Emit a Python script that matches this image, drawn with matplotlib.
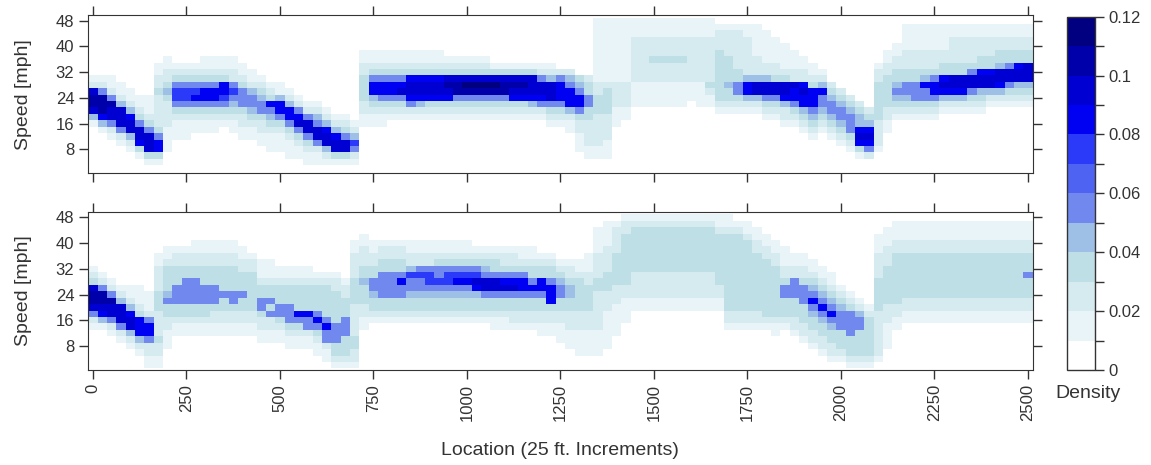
import numpy as np
import matplotlib.pyplot as plt
from matplotlib.colors import ListedColormap, BoundaryNorm

plt.rcParams["font.family"] = ["Liberation Sans", "DejaVu Sans"]

# cell centres: location in 25 ft. increments, speed bins of 2 mph
location = np.arange(0, 2525, 25)
speed = np.arange(48, 0, -2)  # order of the characters in each column string

# density level of each cell:
# 0 -> 0-0.01, 1 -> 0.01-0.02, ... , a -> 0.10-0.11, b -> 0.11-0.12
# one string per location, speeds 48 down to 2 (spaces only for reading)
top_cols = [
    "0000 0000 0129 aa94 1000 0000",
    "0000 0000 0125 aaa8 4100 0000",
    "0000 0000 0112 5a99 5210 0000",
    "0000 0000 0011 2499 9521 0000",
    "0000 0000 0001 1248 9942 1000",
    "0000 0000 0000 1123 5998 3100",
    "0000 0000 0000 1112 3599 9310",
    "0000 0001 1223 2222 2358 8310",
    "0000 0011 2234 3222 2111 1000",
    "0000 0001 2357 7532 1110 0000",
    "0000 0001 2357 7532 1110 0000",  # 250
    "0000 0001 2357 8532 1100 0000",
    "0000 0011 2358 8532 1100 0000",
    "0000 0011 2358 8532 1100 0000",
    "0000 0011 2388 7532 1000 0000",
    "0000 0011 2257 5432 1100 0000",
    "0000 0001 1235 5532 2110 0000",
    "0000 0000 1124 5543 2110 0000",
    "0000 0000 0123 4553 2211 0000",
    "0000 0000 0012 3854 3211 1000",
    "0000 0000 0011 4885 3211 1000",  # 500
    "0000 0000 0001 2488 5321 1100",
    "0000 0000 0000 1258 9532 1100",
    "0000 0000 0000 0125 9953 2110",
    "0000 0000 0000 0124 5995 2110",
    "0000 0000 0000 0012 4899 4210",
    "0000 0000 0000 0001 2489 9310",
    "0000 0000 0000 0001 2359 9310",
    "0000 0000 0000 0000 1247 5210",
    "0000 0112 2333 3221 1000 0000",
    "0000 0112 3588 4321 1000 0000",  # 750
    "0000 0112 3588 5321 1000 0000",
    "0000 0112 3588 5321 0000 0000",
    "0000 0112 3589 5321 0000 0000",
    "0000 0112 3899 8521 0000 0000",
    "0000 0112 3899 8421 0000 0000",
    "0000 0112 3899 8321 0000 0000",
    "0000 0112 3899 8321 0000 0000",
    "0000 0012 39a9 8321 0000 0000",
    "0000 0012 39aa 5321 0000 0000",
    "0000 0012 39ba 5321 0000 0000",  # 1000
    "0000 0012 39ba 5321 0000 0000",
    "0000 0012 39ba 5321 0000 0000",
    "0000 0001 39ba 5321 0000 0000",
    "0000 0001 39aa 5321 0000 0000",
    "0000 0001 39a9 8321 0000 0000",
    "0000 0001 39a9 8321 0000 0000",
    "0000 0001 3999 8421 0000 0000",
    "0000 0001 2599 8521 0000 0000",
    "0000 0001 2499 9532 1000 0000",
    "0000 0000 2588 8532 1000 0000",  # 1250
    "0000 0000 2458 8842 1100 0000",
    "0000 0000 0345 8853 2211 1000",
    "0000 0000 0233 5533 2222 1100",
    "1111 1111 1122 3332 2222 1100",
    "1111 1111 1123 3332 2221 1100",
    "1111 1111 1122 2211 1000 0000",
    "1111 1111 1122 2211 0000 0000",
    "1112 2222 2211 1100 0000 0000",
    "1112 2222 2211 1100 0000 0000",
    "1112 2232 2211 1100 0000 0000",  # 1500
    "1112 2232 2211 1100 0000 0000",
    "1112 2232 2211 1100 0000 0000",
    "1112 2232 2211 1100 0000 0000",
    "1112 2222 2211 1000 0000 0000",
    "1112 2222 2211 1100 0000 0000",
    "1112 2222 2232 1100 0000 0000",
    "0122 2333 3333 3210 0000 0000",
    "0122 2233 3343 3210 0000 0000",
    "0122 2222 3355 3210 0000 0000",
    "0112 2222 2488 4210 0000 0000",  # 1750
    "0111 1122 2499 4210 0000 0000",
    "0011 1112 2499 5321 0000 0000",
    "0001 1112 2399 5321 0000 0000",
    "0000 1111 2399 8422 1000 0000",
    "0000 0111 2298 8532 1000 0000",
    "0000 0011 2289 8843 2100 0000",
    "0000 0001 1238 8854 3210 0000",
    "0000 0000 1248 5543 2100 0000",
    "0000 0000 0023 4554 3210 0000",
    "0000 0000 0002 3455 4321 0000",  # 2000
    "0000 0000 0000 2345 5532 1000",
    "0000 0000 0000 0234 4898 3100",
    "0000 0000 0000 0023 4898 5200",
    "0000 0001 2233 3333 2222 1000",
    "0000 0112 2333 3322 1100 0000",
    "0000 1122 3345 4321 0000 0000",
    "0111 1222 3355 4321 0000 0000",
    "0111 1222 3355 5321 0000 0000",
    "0111 1222 3485 5321 0000 0000",
    "0111 1222 3588 5321 0000 0000",  # 2250
    "0111 1223 3898 4210 0000 0000",
    "0112 2223 3998 4210 0000 0000",
    "0112 2223 3998 4210 0000 0000",
    "0112 2223 5995 3210 0000 0000",
    "0112 2233 8994 3210 0000 0000",
    "0112 2233 8994 2100 0000 0000",
    "0112 2334 9984 2100 0000 0000",
    "0112 2335 9953 2100 0000 0000",
    "0112 2338 9943 2100 0000 0000",
    "0112 2339 9943 2100 0000 0000",  # 2500
]

bottom_cols = [
    "0000 0000 1239 aa95 2100 0000",
    "0000 0000 0125 aa98 4100 0000",
    "0000 0000 0012 5a99 5210 0000",
    "0000 0000 0001 2499 9521 0000",
    "0000 0000 0001 1248 9942 1000",
    "0000 0000 0001 1123 8884 2100",
    "0000 0000 0000 1112 5885 2211",
    "0000 0011 2222 3332 2223 2211",
    "0000 0112 3333 4533 2211 1000",
    "0000 0122 3335 5533 2110 0000",
    "0000 0122 3355 5533 2110 0000",  # 250
    "0000 1122 3355 5533 2110 0000",
    "0000 1122 3335 5533 2110 0000",
    "0000 1122 3335 5532 2110 0000",
    "0000 1122 3333 5332 2110 0000",
    "0000 1122 3333 5532 2110 0000",
    "0000 0112 2333 5332 2110 0000",
    "0000 0012 2333 3332 2110 0000",
    "0000 0001 1123 3553 2211 0000",
    "0000 0001 1123 3535 2211 0000",
    "0000 0000 1123 3355 3211 0000",  # 500
    "0000 0000 1123 3355 5321 1000",
    "0000 0000 1123 3338 5321 1000",
    "0000 0000 1123 3338 5521 1000",
    "0000 0000 0123 3335 8532 1100",
    "0000 0000 0123 3333 5855 2110",
    "0000 0000 0122 3333 3555 3321",
    "0000 0000 0012 2333 5553 3321",
    "0000 1122 2233 3322 2223 3221",
    "0001 1222 3343 3322 1100 0000",
    "0000 1122 3355 4332 1000 0000",  # 750
    "0000 1223 3555 5332 1000 0000",
    "0000 1223 3555 5332 1000 0000",
    "0000 1223 3585 5332 1000 0000",
    "0000 1122 4755 4332 1000 0000",
    "0000 1122 5755 4332 1000 0000",
    "0000 1122 5775 4332 1000 0000",
    "0000 1123 5575 4332 1000 0000",
    "0000 1123 5775 4332 1000 0000",
    "0000 1123 5785 4332 1000 0000",
    "0000 1123 5785 4332 1000 0000",  # 1000
    "0000 0123 5798 4332 1000 0000",
    "0000 0123 4599 5332 1000 0000",
    "0000 0123 3599 5332 1100 0000",
    "0000 0122 3589 5332 1100 0000",
    "0000 0122 3589 5332 2100 0000",
    "0000 0112 3588 5332 2100 0000",
    "0000 0112 3358 5332 2100 0000",
    "0000 0012 3388 5332 2110 0000",
    "0000 0012 3358 8832 2110 0000",
    "0000 0001 2345 5332 2111 0000",  # 1250
    "0000 0001 2234 4332 2211 1000",
    "0000 0001 1233 3332 2211 1100",
    "0000 0011 1223 3332 2211 1100",
    "0011 1122 2233 2222 2211 1100",
    "0111 1222 2333 2221 1111 1000",
    "0122 2233 3332 2211 1110 0000",
    "1223 3333 3332 2111 1000 0000",
    "1233 3333 3222 2110 0000 0000",
    "1233 3333 3222 2110 0000 0000",
    "1233 3333 3222 2110 0000 0000",  # 1500
    "1233 3333 3222 2110 0000 0000",
    "1233 3333 3222 2110 0000 0000",
    "1233 3333 3222 2110 0000 0000",
    "1233 3333 3222 2110 0000 0000",
    "1233 3333 3222 2110 0000 0000",
    "1233 3333 3222 2110 0000 0000",
    "1123 3333 3332 2110 0000 0000",
    "1123 3333 3333 3332 2100 0000",
    "0123 3333 3333 3332 2100 0000",
    "0112 3333 3333 3332 2100 0000",  # 1750
    "0011 2233 3333 3332 2100 0000",
    "0001 1223 3333 3333 2100 0000",
    "0000 1122 3333 3333 2110 0000",
    "0000 0111 2235 5333 2100 0000",
    "0000 0011 2255 5333 2210 0000",
    "0000 0011 2235 5533 3221 0000",
    "0000 0001 1234 5854 3322 1000",
    "0000 0000 1123 4585 4332 2100",
    "0000 0000 0112 3458 5433 2210",
    "0000 0000 0001 2345 5533 3210",  # 2000
    "0000 0000 0000 1235 5553 3321",
    "0000 0000 0000 0124 5533 3321",
    "0000 0000 0000 0012 3333 3321",
    "0001 1122 2233 3332 2222 2210",
    "0011 1222 3333 3322 2111 1000",
    "0111 2233 3333 3322 1100 0000",
    "0111 2233 3333 3221 1000 0000",
    "0111 2233 3333 3221 1000 0000",
    "0111 2233 3333 3221 1000 0000",
    "0111 2233 3333 3221 1000 0000",  # 2250
    "0111 2233 3333 3221 1000 0000",
    "0111 2233 3333 3221 1000 0000",
    "0111 2233 3333 3221 1000 0000",
    "0111 2233 3333 3221 1000 0000",
    "0111 2233 3333 3221 1000 0000",
    "0111 2233 3333 3221 1000 0000",
    "0111 2233 3333 3221 1000 0000",
    "0111 2233 3333 3221 1000 0000",
    "0111 2233 3333 3221 1000 0000",
    "0111 2233 3533 3221 1000 0000",  # 2500
]

levels = np.arange(0, 0.125, 0.01)
level_colors = [
    "#ffffff", "#e8f4f7", "#d5ebf0", "#bfdfe7", "#9fc0e6", "#7189ee",
    "#4f63f3", "#2a3af8", "#0000f2", "#0000d2", "#0000aa", "#000080",
]
cb_labels = ["0", "0.02", "0.04", "0.06", "0.08", "0.1", "0.12"]


def to_density(cols):
    # columns of level characters -> (speed, location) grid of densities
    grid = np.array([[int(c, 16) for c in s.replace(" ", "")] for s in cols]).T
    return grid * 0.01 + 0.005


cmap = ListedColormap(level_colors)
norm = BoundaryNorm(levels, cmap.N)
x_edges = np.append(location - 12.5, location[-1] + 12.5)
y_edges = np.append(speed + 1, speed[-1] - 1)

ink = "#333333"
fig = plt.figure(figsize=(11.51, 4.65), dpi=100)
ax_top = fig.add_axes([0.0767, 0.6273, 0.8205, 0.3404])
ax_bot = fig.add_axes([0.0767, 0.2043, 0.8205, 0.3404])

for ax, cols in ((ax_top, top_cols), (ax_bot, bottom_cols)):
    mesh = ax.pcolormesh(x_edges, y_edges, to_density(cols), cmap=cmap,
                         norm=norm, shading="flat", antialiased=False)
    ax.set_xlim(-12.5, 2512.5)
    ax.set_ylim(0.5, 49.8)
    ax.set_xticks(np.arange(0, 2501, 250))
    ax.set_yticks([8, 16, 24, 32, 40, 48])
    ax.tick_params(direction="out", length=6.5, width=1, color=ink,
                   labelcolor=ink, labelsize=12, top=True, right=True)
    for sp in ax.spines.values():
        sp.set_color(ink)
    ax.set_ylabel("Speed [mph]", fontsize=14, color=ink)
    ax.yaxis.set_label_coords(-0.06, 0.5)

ax_top.tick_params(labelbottom=False)
ax_bot.tick_params(axis="x", labelrotation=90)

cax = fig.add_axes([0.9267, 0.2043, 0.0246, 0.7598])
cb = fig.colorbar(mesh, cax=cax, ticks=levels[::2])
cb.ax.set_yticklabels(cb_labels)
cb.ax.yaxis.set_ticks(levels[1::2], minor=True)
cb.ax.tick_params(which="both", direction="out", length=6.5, width=1,
                  color=ink, labelcolor=ink, labelsize=12)
cb.outline.set_edgecolor(ink)
cb.outline.set_linewidth(1)

fig.text(0.945, 0.153, "Density", ha="center", va="center", fontsize=14, color=ink)
fig.text(0.4865, 0.032, "Location (25 ft. Increments)", ha="center",
         va="center", fontsize=14, color=ink)

plt.savefig("out.png", dpi=100)
